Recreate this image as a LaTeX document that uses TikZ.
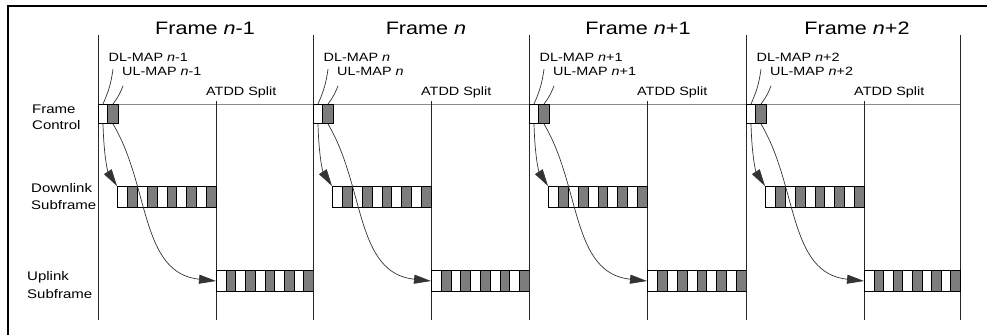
\documentclass[tikz,border=0pt]{standalone}
\usepackage{fontspec}
\setmainfont{Liberation Sans}
\usetikzlibrary{arrows.meta,calc}
\newcommand{\hs}[1]{\scalebox{1.2}[1]{#1}}
\definecolor{cellgray}{RGB}{125,125,125}
\begin{document}
\begin{tikzpicture}[x=1pt,y=-1pt,
  lbl/.style={inner sep=0pt, anchor=base west, font=\fontsize{12}{14}\selectfont},
  sidelbl/.style={inner sep=0pt, anchor=base west, font=\fontsize{12.5}{15}\selectfont},
  ttl/.style={inner sep=0pt, anchor=base, font=\fontsize{18}{21}\selectfont},
  vline/.style={line width=0.9pt, draw=black!85},
  hline/.style={line width=0.8pt, draw=black!45},
  fcbox/.style={draw, line width=1pt, inner sep=0pt, minimum height=19pt, anchor=north west},
  sub/.style={draw, line width=1pt, inner sep=0pt, minimum height=21pt, anchor=north west,
    path picture={
      \foreach \c in {1,3,...,9}
        \fill[cellgray] ($(path picture bounding box.north west)!{\c/10}!(path picture bounding box.north east)$)
          rectangle ($(path picture bounding box.south west)!{(\c+1)/10}!(path picture bounding box.south east)$);
      \foreach \c in {1,...,9}
        \draw[line width=1pt] ($(path picture bounding box.north west)!{\c/10}!(path picture bounding box.north east)$)
          -- ($(path picture bounding box.south west)!{\c/10}!(path picture bounding box.south east)$);
    }},
  conn/.style={line width=0.7pt, draw=black!80, -{Triangle[length=17pt,width=9pt]}},
  leader/.style={line width=0.7pt, draw=black!80}
]
\useasboundingbox (0,0) rectangle (987,335);
% outer border
\draw[line width=1.6pt] (8,335) -- (8,6) -- (987,6);

% side labels
\node[sidelbl] (fc1) at (32,113) {\hs{Frame}};
\node[sidelbl] (fc2) at (32,129) {\hs{Control}};
\node[sidelbl] (dn1) at (31,192) {\hs{Downlink}};
\node[sidelbl] (dn2) at (31,209) {\hs{Subframe}};
\node[sidelbl] (up1) at (27,280) {\hs{Uplink}};
\node[sidelbl] (up2) at (27,298) {\hs{Subframe}};

% horizontal frame-control line
\draw[hline] (98,104) -- (960,104);
% final frame boundary
\draw[vline] (960,35) -- (960,320);

\foreach \x/\nx/\s/\tc/\i in {98/313/{-1}/107/a, 313/529/{}/113/b, 529/746/{+1}/109/c, 746/960/{+2}/111/d}{
  \pgfmathsetmacro\uw{\nx-\x-118}
  % frame boundary and ATDD split
  \draw[vline] (\x,35) -- (\x,320);
  \draw[vline] (\x+118,101) -- (\x+118,320);
  % texts
  \node[ttl] (t\i) at (\x+\tc,34) {\hs{Frame \textit{n}\s}};
  \node[lbl] (dll\i) at (\x+10.5,61) {\hs{DL-MAP \textit{n}\s}};
  \node[lbl] (ull\i) at (\x+24,75.5) {\hs{UL-MAP \textit{n}\s}};
  \node[lbl] (at\i) at (\x+108,95) {\hs{ATDD Split}};
  % frame control
  \node[fcbox, fill=white, minimum width=9pt] (fcw\i) at (\x,104) {};
  \node[fcbox, fill=cellgray, minimum width=11pt] (fcg\i) at (\x+9,104) {};
  % subframes
  \node[sub, minimum width=99pt] (dl\i) at (\x+19,186) {};
  \node[sub, minimum width=\uw pt] (ul\i) at (\x+118,270) {};
  % leaders
  \draw[leader] (fcw\i.north) to[bend right=8] ($(dll\i.south west)+(4.5,8)$);
  \draw[leader] (fcg\i.north) to[bend right=8] ($(ull\i.south west)+(1,10)$);
  % arrows
  \draw[conn] (fcw\i.south) .. controls +(1,35) and +(-9,-14) .. (dl\i.north west);
  \draw[conn] (fcg\i.south) .. controls +(37,62) and +(-76,-8) .. (ul\i.west);
}
\end{tikzpicture}
\end{document}
